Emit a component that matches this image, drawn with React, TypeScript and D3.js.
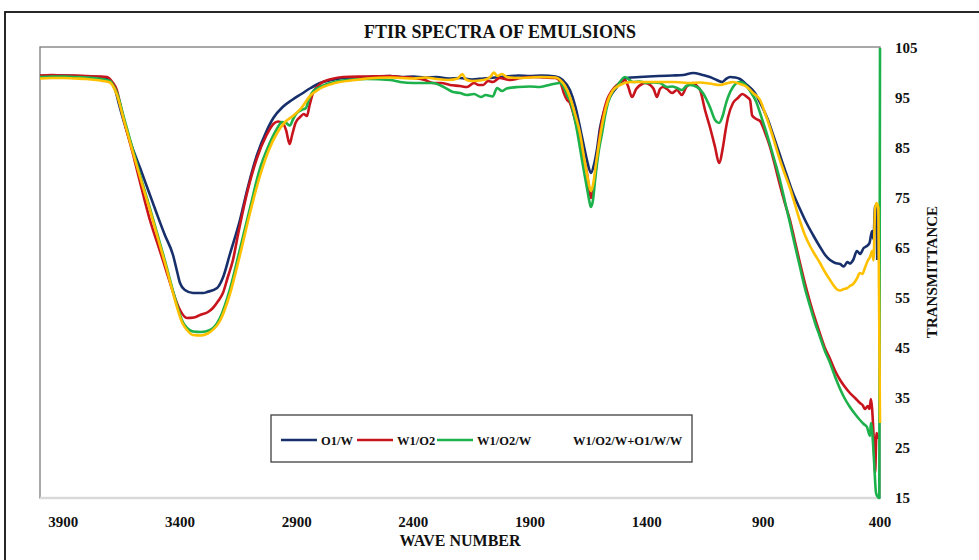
import React from 'react';
import * as d3 from 'd3';

const chartTitle = 'FTIR SPECTRA OF EMULSIONS';
const xTitle = 'WAVE NUMBER';
const yTitle = 'TRANSMITTANCE';
const xTicks = [3900, 3400, 2900, 2400, 1900, 1400, 900, 400];
const yTicks = [15, 25, 35, 45, 55, 65, 75, 85, 95, 105];
const seriesNames = ['O1/W', 'W1/O2', 'W1/O2/W', 'W1/O2/W+O1/W/W'];
const seriesColors = ['#172f6b', '#c8141c', '#1db14b', '#ffc000'];

const o1w: [number, number][] = [
  [4000, 99.4], [3950, 99.5], [3900, 99.5], [3850, 99.4], [3800, 99.3], [3750, 99.2], [3713, 99.0], [3695, 98.2],
  [3679, 96.8], [3660, 93.5], [3644, 90.8], [3610, 85.8], [3571, 81.0], [3535, 76.4], [3499, 71.8], [3465, 67.6],
  [3430, 63.6], [3412, 60.2], [3400, 58.0], [3379, 56.6], [3344, 56.0], [3300, 56.0], [3284, 56.2], [3241, 57.0],
  [3215, 59.2], [3186, 63.8], [3143, 70.6], [3110, 77.0], [3070, 83.6], [3030, 88.3], [3000, 91.0], [2960, 93.2],
  [2920, 94.6], [2880, 95.8], [2840, 97.0], [2800, 98.0], [2750, 98.6], [2700, 99.0], [2600, 99.2], [2500, 99.4],
  [2450, 99.2], [2400, 99.3], [2350, 99.1], [2300, 99.2], [2250, 98.9], [2200, 99.0], [2150, 98.7], [2100, 98.9],
  [2050, 99.1], [2000, 99.3], [1950, 99.5], [1900, 99.4], [1850, 99.5], [1790, 99.3], [1760, 98.6], [1729, 96.6],
  [1705, 93.2], [1686, 89.2], [1670, 85.6], [1656, 82.6], [1639, 80.0], [1625, 81.8], [1612, 85.0], [1600, 89.0],
  [1585, 92.0], [1570, 94.0], [1550, 95.8], [1527, 97.2], [1484, 99.0], [1429, 99.2], [1350, 99.4], [1290, 99.5],
  [1244, 99.6], [1201, 100.0], [1160, 99.6], [1129, 99.2], [1100, 98.6], [1077, 98.2], [1060, 98.8], [1043, 99.2],
  [1020, 99.1], [1000, 98.8], [970, 97.6], [936, 96.0], [908, 93.5], [880, 90.6], [855, 87.2], [829, 83.6],
  [800, 79.6], [773, 76.0], [745, 73.0], [717, 70.2], [687, 67.6], [657, 65.2], [635, 63.6], [614, 62.6],
  [592, 62.0], [571, 61.8], [555, 61.3], [540, 62.2], [529, 61.9], [515, 62.6], [499, 64.4], [485, 63.8],
  [470, 65.0], [456, 65.4], [445, 66.0], [434, 68.4], [428, 66.8], [421, 73.4], [416, 73.2], [412, 62.6]
];

const w1o2: [number, number][] = [
  [4000, 99.5], [3950, 99.6], [3900, 99.5], [3850, 99.5], [3800, 99.4], [3750, 99.3], [3713, 99.2], [3690, 98.2],
  [3671, 96.6], [3655, 93.5], [3640, 90.5], [3600, 83.5], [3565, 77.0], [3529, 70.6], [3490, 65.0], [3456, 60.0],
  [3425, 55.5], [3400, 52.6], [3370, 51.0], [3340, 51.1], [3314, 51.6], [3280, 52.2], [3259, 53.0], [3235, 54.5],
  [3216, 56.0], [3195, 59.2], [3173, 62.6], [3150, 68.0], [3110, 76.5], [3070, 83.0], [3030, 87.5], [3000, 89.8],
  [2980, 90.3], [2960, 90.0], [2945, 88.5], [2930, 85.8], [2920, 87.5], [2905, 90.0], [2885, 91.2], [2870, 91.8],
  [2856, 91.4], [2845, 93.5], [2830, 96.0], [2800, 97.8], [2750, 98.8], [2700, 99.2], [2600, 99.3], [2500, 99.4],
  [2457, 99.2], [2400, 99.0], [2350, 98.6], [2316, 98.0], [2280, 98.0], [2243, 97.6], [2200, 97.4], [2170, 97.2],
  [2140, 98.0], [2120, 97.6], [2101, 97.6], [2080, 98.4], [2059, 98.2], [2030, 99.0], [1986, 98.6], [1940, 99.0],
  [1887, 99.2], [1840, 99.1], [1790, 99.0], [1770, 98.2], [1755, 96.0], [1741, 94.6], [1729, 94.0], [1714, 91.8],
  [1699, 89.2], [1678, 84.5], [1656, 80.0], [1645, 76.5], [1639, 75.0], [1630, 76.5], [1621, 79.5], [1610, 84.0],
  [1600, 88.0], [1585, 92.0], [1570, 94.6], [1550, 96.4], [1527, 97.6], [1493, 98.6], [1480, 97.4], [1463, 95.2],
  [1445, 96.8], [1420, 97.8], [1407, 98.0], [1385, 97.6], [1370, 96.8], [1356, 95.2], [1343, 96.8], [1330, 97.2],
  [1313, 96.8], [1291, 96.0], [1270, 96.6], [1249, 95.6], [1230, 97.2], [1201, 98.0], [1185, 97.4], [1171, 96.6],
  [1150, 92.6], [1129, 89.2], [1107, 85.2], [1090, 82.0], [1073, 85.2], [1062, 88.5], [1051, 91.2], [1030, 94.0],
  [1009, 95.0], [990, 95.8], [970, 95.2], [957, 94.6], [948, 91.5], [930, 90.8], [914, 90.4], [892, 88.0],
  [871, 85.2], [850, 81.5], [829, 77.6], [808, 74.0], [786, 70.6], [765, 66.4], [743, 62.0], [722, 58.0],
  [700, 54.2], [678, 50.8], [657, 47.8], [636, 45.0], [614, 42.8], [592, 40.4], [571, 38.6], [550, 37.2],
  [529, 36.0], [507, 35.0], [486, 34.0], [475, 33.6], [464, 32.8], [452, 33.4], [445, 32.8], [439, 34.8],
  [434, 33.0], [428, 28.0], [421, 20.0], [415, 28.0], [405, 27.0], [400, 27.0]
];

const w1o2w: [number, number][] = [
  [4000, 99.2], [3950, 99.3], [3900, 99.3], [3850, 99.2], [3800, 99.1], [3750, 98.9], [3715, 98.6], [3700, 98.4],
  [3685, 97.4], [3670, 96.0], [3640, 91.0], [3601, 84.5], [3565, 78.6], [3529, 73.0], [3492, 67.0], [3456, 61.0],
  [3430, 56.4], [3413, 53.6], [3390, 50.4], [3370, 49.0], [3344, 48.3], [3310, 48.2], [3271, 48.6], [3229, 51.0],
  [3186, 56.8], [3143, 64.8], [3100, 73.0], [3060, 80.5], [3020, 85.5], [2985, 88.8], [2963, 90.2], [2945, 90.0],
  [2929, 89.5], [2915, 90.8], [2899, 92.0], [2880, 92.6], [2860, 93.0], [2850, 94.4], [2835, 96.0], [2810, 97.0],
  [2770, 97.8], [2720, 98.4], [2650, 98.7], [2600, 98.8], [2500, 98.6], [2457, 98.2], [2400, 98.0], [2316, 98.0],
  [2270, 97.2], [2230, 96.2], [2200, 96.0], [2170, 95.6], [2140, 95.8], [2110, 95.2], [2090, 95.6], [2060, 95.3],
  [2041, 97.0], [2020, 96.4], [2000, 96.9], [1950, 97.2], [1900, 97.3], [1857, 97.2], [1810, 97.7], [1771, 98.0],
  [1750, 96.6], [1740, 95.4], [1729, 94.6], [1714, 92.0], [1699, 88.6], [1675, 82.0], [1656, 77.0], [1645, 74.2],
  [1639, 73.2], [1630, 74.6], [1621, 78.6], [1605, 84.5], [1591, 88.0], [1578, 91.5], [1566, 94.0], [1545, 96.4],
  [1527, 97.4], [1493, 99.2], [1459, 98.2], [1430, 98.3], [1399, 98.0], [1370, 98.1], [1343, 98.0], [1313, 97.2],
  [1290, 97.3], [1270, 97.0], [1249, 96.6], [1230, 97.4], [1214, 97.6], [1184, 97.2], [1159, 96.0], [1129, 93.2],
  [1107, 90.6], [1090, 90.0], [1073, 91.6], [1062, 93.6], [1051, 95.2], [1030, 97.2], [1000, 98.2], [980, 97.8],
  [957, 96.4], [930, 94.2], [914, 92.0], [893, 89.0], [871, 85.6], [850, 82.2], [829, 78.6], [808, 74.4],
  [786, 70.0], [765, 65.6], [743, 61.2], [722, 57.0], [700, 53.4], [678, 50.0], [657, 47.2], [636, 44.4],
  [614, 42.0], [592, 39.2], [571, 36.8], [550, 34.8], [529, 33.2], [507, 31.8], [486, 30.6], [470, 29.8],
  [456, 29.2], [443, 27.4], [439, 30.0], [430, 26.0], [425, 22.0], [417, 16.0], [409, 15.2], [403, 15.0],
  [400, 105.0]
];

const w1o2wo1ww: [number, number][] = [
  [4000, 98.9], [3950, 99.0], [3900, 99.0], [3850, 98.9], [3800, 98.8], [3760, 98.6], [3730, 98.4], [3700, 98.1],
  [3685, 97.2], [3670, 95.6], [3640, 90.5], [3601, 84.0], [3565, 78.2], [3529, 72.6], [3492, 66.5], [3456, 60.6],
  [3430, 56.0], [3413, 53.2], [3390, 50.0], [3370, 48.6], [3344, 47.6], [3310, 47.5], [3271, 48.2], [3229, 50.4],
  [3186, 55.8], [3143, 63.6], [3100, 72.0], [3060, 79.0], [3020, 84.5], [2984, 88.0], [2950, 90.2], [2916, 91.4],
  [2880, 93.0], [2843, 95.4], [2800, 96.9], [2744, 97.9], [2650, 98.6], [2599, 98.9], [2500, 99.1], [2450, 99.0],
  [2400, 98.9], [2350, 99.1], [2300, 98.8], [2250, 98.6], [2210, 98.9], [2190, 99.8], [2175, 98.7], [2150, 98.4],
  [2100, 98.6], [2070, 99.2], [2055, 100.1], [2040, 99.4], [2020, 99.8], [2000, 99.2], [1950, 99.0], [1900, 99.1],
  [1850, 99.2], [1790, 99.1], [1771, 98.6], [1750, 97.4], [1729, 95.2], [1708, 92.0], [1686, 88.0], [1668, 83.0],
  [1651, 78.6], [1639, 76.4], [1630, 77.6], [1618, 81.6], [1600, 87.2], [1583, 91.5], [1566, 94.5], [1545, 96.5],
  [1514, 97.6], [1471, 98.2], [1400, 98.2], [1343, 98.2], [1290, 98.2], [1250, 98.1], [1214, 98.0], [1171, 98.1],
  [1130, 97.9], [1086, 97.6], [1050, 98.0], [1030, 98.2], [1000, 97.8], [970, 97.2], [944, 96.0], [914, 94.6],
  [893, 92.0], [871, 89.0], [850, 85.8], [829, 82.6], [808, 79.8], [786, 77.0], [765, 73.8], [743, 70.4],
  [722, 67.6], [700, 65.4], [678, 63.6], [657, 62.0], [636, 60.2], [614, 58.6], [600, 57.6], [584, 56.7],
  [570, 56.5], [555, 56.8], [540, 57.0], [529, 57.4], [515, 57.8], [500, 58.8], [486, 60.0], [475, 59.8],
  [465, 61.0], [451, 62.6], [443, 63.2], [434, 64.4], [428, 62.5], [421, 72.8], [415, 74.0], [407, 73.0],
  [400, 30.0]
];

const allSeries = [o1w, w1o2, w1o2w, w1o2wo1ww];

const PL = 40, PR = 880, PT = 48, PB = 498;

export default function App() {
  const x = d3.scaleLinear().domain([4000, 400]).range([PL, PR]);
  const y = d3.scaleLinear().domain([15, 105]).range([PB, PT]);
  const line = d3
    .line<[number, number]>()
    .x((d) => x(d[0]))
    .y((d) => y(d[1]))
    .curve(d3.curveMonotoneX);

  const font = '"Liberation Serif", "Times New Roman", serif';
  const legendY = 440;
  const legendItems = [
    { lx: 281, tx: 321, draw: true },
    { lx: 357, tx: 397, draw: true },
    { lx: 437, tx: 477, draw: true },
    { lx: 533, tx: 573, draw: false },
  ];

  return (
    <svg
      width={979}
      height={560}
      style={{ position: 'absolute', left: 0, top: 0, background: '#fff' }}
      fontFamily={font}
    >
      <rect x={0} y={0} width={979} height={560} fill="#fff" />
      <rect x={5} y={12} width={1100} height={700} fill="none" stroke="#111" strokeWidth={1.8} />
      <text x={500} y={38} textAnchor="middle" fontSize={18} fontWeight="bold" fill="#111">
        {chartTitle}
      </text>

      <rect x={PL} y={PT - 1} width={PR - PL} height={PB - PT + 1} fill="none" stroke="#7a7a7a" strokeWidth={1.3} />
      <line x1={PL} x2={PR} y1={PB} y2={PB} stroke="#d9d9d9" strokeWidth={2.5} />

      {allSeries.map((s, i) => (
        <path
          key={i}
          d={line(s) || ''}
          fill="none"
          stroke={seriesColors[i]}
          strokeWidth={2.6}
          strokeLinejoin="round"
        />
      ))}

      {yTicks.map((t) => (
        <text key={t} x={895} y={y(t) + 5} fontSize={15} fontWeight="bold" fill="#111">
          {t}
        </text>
      ))}
      {xTicks.map((t) => (
        <text key={t} x={x(t)} y={527} textAnchor="middle" fontSize={15} fontWeight="bold" fill="#111">
          {t}
        </text>
      ))}
      <text x={460} y={546} textAnchor="middle" fontSize={16} fontWeight="bold" fill="#111">
        {xTitle}
      </text>
      <text
        transform={`translate(937, 272) rotate(-90)`}
        textAnchor="middle"
        fontSize={15}
        fontWeight="bold"
        fill="#111"
      >
        {yTitle}
      </text>

      <rect x={271} y={415} width={421} height={47} fill="#fff" stroke="#404040" strokeWidth={1.3} />
      {legendItems.map((it, i) => (
        <g key={i}>
          {it.draw && (
            <line x1={it.lx} x2={it.lx + 36} y1={legendY} y2={legendY} stroke={seriesColors[i]} strokeWidth={2.6} />
          )}
          <text x={it.tx} y={legendY + 4.5} fontSize={12.5} fontWeight="bold" fill="#111">
            {seriesNames[i]}
          </text>
        </g>
      ))}
    </svg>
  );
}
